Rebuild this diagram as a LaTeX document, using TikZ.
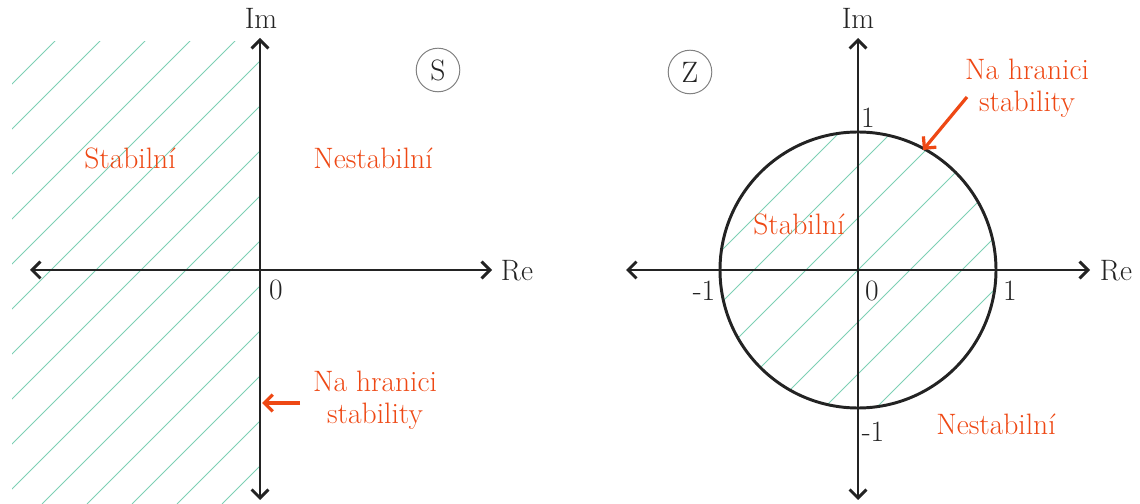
\documentclass[tikz,border=0pt]{standalone}
\usetikzlibrary{arrows.meta,positioning}

\definecolor{hatchgreen}{RGB}{125,208,180}
\definecolor{labred}{RGB}{238,72,20}
\definecolor{axisgray}{RGB}{35,35,35}

\begin{document}
\begin{tikzpicture}[x=0.025cm, y=-0.025cm,
        axis/.style={line width=2.1pt, draw=axisgray, {Straight Barb[length=6pt,width=12pt]}-{Straight Barb[length=6pt,width=12pt]}},
        hatch/.style={draw=hatchgreen, line width=0.6pt},
        txt/.style={font=\fontsize{21}{23}\selectfont, text=axisgray, inner sep=1pt},
        lab/.style={font=\fontsize{21}{22.5}\selectfont, text=labred, inner sep=1pt, align=center},
        plane/.style={circle, draw=gray, line width=0.7pt, minimum size=31pt, inner sep=0pt, font=\fontsize{21}{23}\selectfont, text=axisgray},
        pointer/.style={line width=2.3pt, draw=labred, -{Straight Barb[length=6pt,width=12pt]}}
    ]
    \useasboundingbox (0,0) rectangle (1140,504);

    %% ---- S plane: hatched left half ----
    \begin{scope}
        \clip (12,42) rectangle (260,504);
        \foreach \k in {-5,...,11}
            \draw[hatch] ({276+45*\k},0) -- ({276+45*\k-504},504);
    \end{scope}

    % axes
    \coordinate (sl) at (30,270);
    \coordinate (sr) at (492,270);
    \coordinate (st) at (260,38);
    \coordinate (sb) at (260,500);
    \draw[axis] (sl) -- (sr);
    \draw[axis] (sb) -- (st);
    \node[txt] (sim) at (261,18) {Im};
    \node[txt] (sre) at (517,271) {Re};
    \node[txt] (s0) at (276,290) {0};
    \node[plane] (spl) at (438,70) {S};

    % regions
    \node[lab] (sstab) at (130,158) {Stabilní};
    \node[lab] (snest) at (373,158) {Nestabilní};
    \node[lab] (sbound) at (375,400) {Na hranici\\stability};
    \coordinate (sbtail) at (300,403);
    \coordinate (sbnd) at (262,403);
    \draw[pointer] (sbtail) -- (sbnd);

    %% ---- Z plane: hatched unit disc ----
    \coordinate (zo) at (858,270);
    \begin{scope}
        \clip (zo) circle (138);
        \foreach \k in {-4,...,4}
            \draw[hatch] ({1128+52*\k},0) -- ({1128+52*\k-540},540);
    \end{scope}
    \draw[line width=2.1pt, draw=axisgray] (zo) circle (138);

    % axes
    \coordinate (zl) at (626,270);
    \coordinate (zr) at (1090,270);
    \coordinate (zt) at (858,38);
    \coordinate (zb) at (858,500);
    \draw[axis] (zl) -- (zr);
    \draw[axis] (zb) -- (zt);
    \node[txt] (zim) at (858,18) {Im};
    \node[txt] (zre) at (1116,271) {Re};
    \node[txt] (z0) at (872,291) {0};
    \node[txt] (zp1) at (1010,291) {1};
    \node[txt] (zm1) at (704,291) {-1};
    \node[txt] (zi1) at (868,118) {1};
    \node[txt] (zim1) at (873,432) {-1};
    \node[plane] (zpl) at (690,72) {Z};

    % regions
    \node[lab] (zstab) at (799,224) {Stabilní};
    \node[lab] (znest) at (996,424) {Nestabilní};
    \node[lab] (zbound) at (1027,88) {Na hranici\\stability};
    \coordinate (zbtail) at (967,97);
    \coordinate (zbnd) at (923,150);
    \draw[pointer] (zbtail) -- (zbnd);

\end{tikzpicture}
\end{document}
